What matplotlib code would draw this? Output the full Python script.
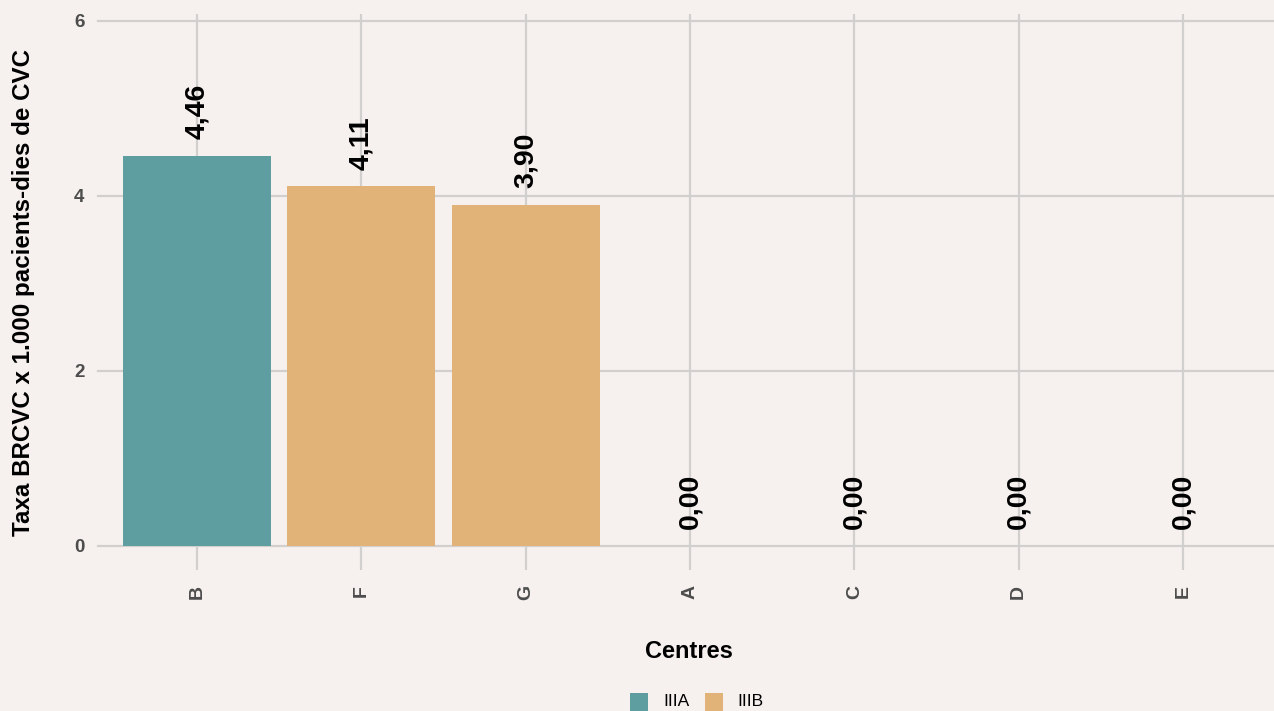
import matplotlib
matplotlib.use("Agg")
import matplotlib.pyplot as plt
from matplotlib.patches import Rectangle

plt.rcParams['font.family'] = ['Liberation Sans', 'DejaVu Sans']

centres = ["B", "F", "G", "A", "C", "D", "E"]
rates = [4.46, 4.11, 3.90, 0.00, 0.00, 0.00, 0.00]
groups = ["IIIA", "IIIB", "IIIB", "IIIA", "IIIA", "IIIA", "IIIA"]
legend_groups = ["IIIA", "IIIB"]
group_colors = {"IIIA": "#5F9EA0", "IIIB": "#E1B378"}
bg = "#F6F0EE"
grid = "#D2D0CF"
W, H = 1274, 711

fig = plt.figure(figsize=(W / 100, H / 100), dpi=100, facecolor=bg)
ax = fig.add_axes([98.4 / W, 1 - 546 / H, (1281.6 - 98.4) / W, (546 - 14) / H])
ax.set_facecolor(bg)

x = list(range(len(centres)))
ax.bar(x, rates, width=0.9, color=[group_colors[g] for g in groups], zorder=3)

for xi, v in zip(x, rates):
    ax.annotate(f"{v:.2f}".replace(".", ","), (xi, v), xytext=(0, 12),
                textcoords="offset points", rotation=90, ha="center", va="bottom",
                fontsize=20.5, fontweight="bold", color="black", zorder=4)

ax.set_xlim(-0.6, 6.6)
ax.set_ylim(0, 6.08)
ax.set_yticks([0, 2, 4, 6])
ax.set_xticks(x)
ax.set_xticklabels(centres, rotation=90, fontsize=14, fontweight="bold", color="#4D4D4D")
ax.set_yticklabels(["0", "2", "4", "6"], fontsize=13.5, fontweight="bold", color="#4D4D4D")
ax.tick_params(axis="y", length=0, pad=10)
ax.tick_params(axis="x", length=17, width=1.6, color=grid, pad=11)
ax.grid(True, color=grid, linewidth=1.6, zorder=0)
for ln in ax.get_ygridlines():
    ln.set_clip_on(False)
for s in ax.spines.values():
    s.set_visible(False)

fig.text(689 / W, 1 - 658 / H, "Centres", fontsize=17, fontweight="bold",
         ha="center", va="baseline")
fig.text(24 / W, 1 - 292.5 / H, "Taxa BRCVC x 1.000 pacients-dies de CVC", fontsize=17.4,
         fontweight="bold", rotation=90, ha="center", va="center")

# legend (bottom, partially cut like the reference)
sq = 18
lx = [630, 705]
tx = [663, 737]
for g, x0, t0 in zip(legend_groups, lx, tx):
    fig.patches.append(Rectangle((x0 / W, 1 - (693 + sq) / H), sq / W, sq / H,
                                 transform=fig.transFigure, facecolor=group_colors[g],
                                 edgecolor="none"))
    fig.text(t0 / W, 1 - 706 / H, g, fontsize=12.5, ha="left", va="baseline")

fig.savefig("out.png", dpi=100, facecolor=bg)
